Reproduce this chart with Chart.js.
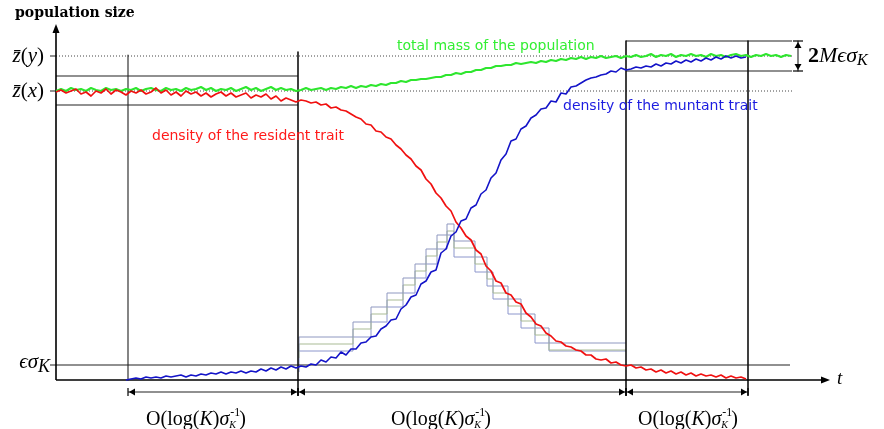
<!DOCTYPE html>
<html>
<head>
<meta charset="utf-8">
<script src="https://cdn.jsdelivr.net/npm/chart.js@4.4.1/dist/chart.umd.min.js"></script>
<style>
  html,body{margin:0;padding:0;background:#fff;}
  canvas{display:block;}
</style>
</head>
<body>
<canvas id="c" width="884" height="429"></canvas>
<script>
'use strict';

/* time grid shared by the three trajectories (arbitrary time units) */
const T = [
  0,5,10,15,20,25,30,35,40,45,
  50,55,60,65,70,75,80,85,90,95,
  100,105,110,115,120,125,130,135,140,145,
  150,155,160,165,170,175,180,185,190,195,
  200,205,210,215,220,225,230,235,240,245,
  250,255,260,265,270,275,280,285,290,295,
  300,305,310,315,320,325,330,335,340,345,
  350,355,360,365,370,375,380,385,390,395,
  400,405,410,415,420,425,430,435,440,445,
  450,455,460,465,470,475,480,485,490,495,
  500,505,510,515,520,525,530,535,540,545,
  550,555,560,565,570,575,580,585,590,595,
  600,605,610,615,620,625,630,635,640,645,
  650,655,660,665,670,675,680,685,690,695,
  700,705,710,715,720,725,730,735
];

/* density of the resident trait, from t=0 */
const RESIDENT = [
  288,290,287,289,291,286,288,284,289,287,
  291,286,290,288,285,289,287,290,286,288,
  292,287,290,285,288,284,289,286,288,284,
  287,283,286,288,284,287,283,285,287,282,
  285,283,286,281,284,279,282,280,278,
  280,279,277,278,275,276,272,273,270,269,
  266,263,261,256,255,249,248,243,241,235,
  231,225,221,214,210,201,196,187,182,174,
  169,158,152,144,140,130,126,114,109,99,
  97,87,85,78,76,67,63,56,54,47,
  44,39,38,34,33,30,29,25,25,21,
  20,21,17,18,15,14,15,12,13,10,
  11,8,10,7,9,6,8,5,7,4,
  6,4,5,3,5,2,4,2,3,1
];

/* density of the mutant trait, starts at T[14] */
const MUTANT_START = 14;
const MUTANT = [
  0,1,2,1,3,2,3,2,4,3,
  4,5,3,5,4,6,5,7,6,8,
  6,8,7,9,7,9,8,11,9,12,
  10,13,11,14,12,14,13,16,15,20,
  18,23,22,28,25,31,31,37,38,43,
  44,51,54,60,61,71,75,83,85,96,
  99,108,110,127,131,144,148,159,161,172,
  175,186,190,202,207,220,226,239,241,251,
  254,262,265,271,272,279,278,287,286,293,
  294,297,300,302,303,305,306,309,308,312,
  310,311,313,312,314,313,316,314,317,316,
  319,317,320,318,321,319,322,320,323,321,
  324,322,324,322,323
];

/* total mass of the population */
const TOTAL = [
  289,291,289,292,290,291,289,292,290,289,
  292,290,291,289,291,290,292,289,291,292,
  290,289,292,290,291,289,292,290,291,293,
  290,292,289,291,290,292,289,291,293,290,
  292,289,291,293,290,292,290,291,289,290,
  292,290,291,292,290,292,291,293,292,294,
  292,294,293,295,294,296,295,297,297,299,
  298,300,300,301,301,302,303,303,305,305,
  307,306,308,308,310,310,312,312,314,314,
  315,315,317,316,317,318,317,319,318,320,
  319,321,320,322,321,323,321,323,322,324,
  322,323,324,322,324,323,325,323,324,326,
  323,325,324,326,323,325,324,326,324,325,
  323,326,324,325,323,325,326,324,325,323,
  325,324,326,324,325,323,325,324
];

/* piecewise-constant bounds used in the invasion phase */
const STAIR_T   = [243,297,315,331,347,359,370,381,391,398,419,431,437,452,465,479,493,526,570];
const STAIR_HI  = [29,43,58,73,87,102,116,131,145,156,139,123,108,94,81,66,52,37,37];
const STAIR_MID = [22,36,51,66,80,95,109,124,138,149,132,116,101,87,74,59,45,30,30];
const STAIR_LO  = [8,29,43,58,73,87,102,116,131,145,123,108,94,81,66,52,37,29,29];

/* reference levels and phase boundaries */
const LEVEL_ZY = 324, LEVEL_ZX = 289, LEVEL_EPS = 15;
const BAND_X = [275, 304];        // z(x) +- M eps sigma
const BAND_Y = [309, 339];        // z(y) +- M eps sigma
const PHASES = [72, 242, 570, 692];
const T_END = 736;

/* ---------- helpers ---------- */
const pts = (ys, off=0) => ys.map((y,i)=>({x:T[i+off], y}));
const segs = list => list.flatMap(([x1,y1,x2,y2]) => [{x:x1,y:y1},{x:x2,y:y2},{x:x2,y:null}]);
const stair = ys => ys.map((y,i)=>({x:STAIR_T[i], y}));

const ROW = -12;   // height of the duration arrows under the t-axis
const thin = segs([
  [0,BAND_X[1],PHASES[1],BAND_X[1]], [0,BAND_X[0],PHASES[1],BAND_X[0]],
  [PHASES[2],BAND_Y[1],T_END,BAND_Y[1]], [PHASES[2],BAND_Y[0],T_END,BAND_Y[0]],
  [0,LEVEL_EPS,734,LEVEL_EPS],
  [PHASES[0],325,PHASES[0],0],
  [-6,LEVEL_ZY,0,LEVEL_ZY], [-6,LEVEL_ZX,0,LEVEL_ZX], [-6,LEVEL_EPS,0,LEVEL_EPS],
  [PHASES[0],ROW,PHASES[1],ROW], [PHASES[1],ROW,PHASES[2],ROW], [PHASES[2],ROW,PHASES[3],ROW],
  [742,BAND_Y[1],742,BAND_Y[0]]
]);
const thick = segs([
  [PHASES[1],328,PHASES[1],-15], [PHASES[2],BAND_Y[1],PHASES[2],-15], [PHASES[3],BAND_Y[1],PHASES[3],-15]
]);
const dotted = segs([[0,LEVEL_ZY,T_END,LEVEL_ZY],[0,LEVEL_ZX,T_END,LEVEL_ZX]]);
const axes = segs([[0,0,0,348],[0,0,768,0]]);

const line = (data, color, width, order, extra={}) => Object.assign({
  data, borderColor:color, borderWidth:width, pointRadius:0, tension:0,
  fill:false, order, borderJoinStyle:'round'
}, extra);

const SERIF = "'Liberation Serif','DejaVu Serif',serif";
const SANS  = "'DejaVu Sans',sans-serif";

function tri(ctx,x,y,dx,dy,len,half){
  const bx=x-dx*len, by=y-dy*len;
  ctx.beginPath(); ctx.moveTo(x,y);
  ctx.lineTo(bx-dy*half, by+dx*half); ctx.lineTo(bx+dy*half, by-dx*half);
  ctx.closePath(); ctx.fill();
}
function bar(ctx,x1,y1,x2,y2){ ctx.beginPath(); ctx.moveTo(x1,y1); ctx.lineTo(x2,y2); ctx.stroke(); }

// parts: {s, f, dy, sup, fs, supDy}
function rich(ctx, parts, x, y, align){
  let w=0;
  const ws = parts.map(p=>{
    ctx.font=p.f; let m=ctx.measureText(p.s).width;
    if(p.sup!=null){ ctx.font=p.fs; m=Math.max(m, ctx.measureText(p.sup).width); }
    w+=m; return m;
  });
  let cx = align==='center' ? x-w/2 : align==='right' ? x-w : x;
  parts.forEach((p,i)=>{
    ctx.font=p.f; ctx.fillText(p.s, cx, y+(p.dy||0));
    if(p.sup!=null){ ctx.font=p.fs; ctx.fillText(p.sup, cx+1, y+p.supDy); }
    cx+=ws[i];
  });
}

const CURVE_LABELS = [
  {text:'density of the resident trait', color:'#ff1a1a', t:96,  h:244},
  {text:'density of the muntant trait',  color:'#1c1ce0', t:507, h:274},
  {text:'total mass of the population',  color:'#33ee33', t:341, h:334}
];
const O_LABELS = [196, 441, 688];

const overlay = {
  id:'overlay',
  afterDatasetsDraw(chart){
    const {ctx, scales:{x:sx, y:sy}} = chart;
    const X=v=>sx.getPixelForValue(v), Y=v=>sy.getPixelForValue(v);
    ctx.save();
    ctx.fillStyle='#000'; ctx.strokeStyle='#000'; ctx.lineWidth=1.2;

    // axis arrow heads
    tri(ctx, X(0), Y(356), 0,-1, 9, 3.5);
    tri(ctx, X(774), Y(0), 1,0, 9, 3.5);

    // duration arrows
    for(let i=0;i<PHASES.length-1;i++){
      const a=X(PHASES[i]), b=X(PHASES[i+1]), y=Y(ROW);
      tri(ctx, a+1, y, -1,0, 6, 3.5); bar(ctx, a, y-4, a, y+4);
      tri(ctx, b-1, y,  1,0, 6, 3.5); bar(ctx, b, y-4, b, y+4);
    }
    // 2 M eps sigma arrow
    const vx=X(742);
    tri(ctx, vx, Y(BAND_Y[1])+1, 0,-1, 6, 3.5); bar(ctx, vx-5, Y(BAND_Y[1]), vx+5, Y(BAND_Y[1]));
    tri(ctx, vx, Y(BAND_Y[0])-1, 0, 1, 6, 3.5); bar(ctx, vx-5, Y(BAND_Y[0]), vx+5, Y(BAND_Y[0]));

    // curve labels
    ctx.textBaseline='middle'; ctx.textAlign='left';
    ctx.font='14px '+SANS;
    CURVE_LABELS.forEach(l=>{ ctx.fillStyle=l.color; ctx.fillText(l.text, X(l.t), Y(l.h)); });

    // axis texts
    ctx.fillStyle='#000'; ctx.textBaseline='alphabetic';
    ctx.font="bold 14px 'DejaVu Serif',serif";
    ctx.fillText('population size', X(-41), Y(363));

    const I21='italic 21px '+SERIF, R21='21px '+SERIF;
    rich(ctx,[{s:'z\u0304',f:I21},{s:'(',f:R21},{s:'y',f:I21},{s:')',f:R21}], X(-12), Y(318), 'right');
    rich(ctx,[{s:'z\u0304',f:I21},{s:'(',f:R21},{s:'x',f:I21},{s:')',f:R21}], X(-12), Y(283), 'right');
    rich(ctx,[{s:'\u03f5\u03c3',f:I21},{s:'K',f:'italic 18px '+SERIF,dy:4}], X(-6), Y(12), 'right');
    rich(ctx,[{s:'2',f:'bold 22px '+SERIF},{s:'M\u03f5\u03c3',f:'italic 22px '+SERIF},{s:'K',f:'italic 16px '+SERIF,dy:3}], X(752), Y(318), 'left');
    ctx.font='italic 19px '+SERIF; ctx.fillText('t', X(781), Y(-4));

    const R20='20px '+SERIF, I20='italic 20px '+SERIF;
    O_LABELS.forEach(c=>{
      rich(ctx,[
        {s:'O(log(',f:R20},{s:'K',f:I20},{s:')',f:R20},{s:'\u03c3',f:I20},
        {s:'K',f:'italic 10px '+SERIF,dy:3,sup:'-1',fs:'12px '+SERIF,supDy:-9},
        {s:')',f:R20}
      ], X(c-56), Y(-45), 'center');
    });
    ctx.restore();
  }
};

new Chart(document.getElementById('c'), {
  type:'line',
  data:{ datasets:[
    line(pts(MUTANT, MUTANT_START), '#1414c8', 1.6, 1),
    line(pts(RESIDENT), '#f01010', 1.7, 2),
    line(pts(TOTAL), '#2ee62e', 2.1, 3),
    line(axes, '#000', 1.6, 4),
    line(thick, '#111', 1.6, 4),
    line(thin, '#222', 1.1, 4),
    line(dotted, '#444', 1, 4, {borderDash:[1,2]}),
    line(stair(STAIR_HI), '#8f98c0', 1, 6, {stepped:'after'}),
    line(stair(STAIR_MID), '#a9bb95', 1, 6, {stepped:'after'}),
    line(stair(STAIR_LO), '#8c96cc', 1, 6, {stepped:'after'})
  ]},
  options:{
    responsive:false, animation:false, devicePixelRatio:1,
    layout:{padding:0},
    scales:{
      x:{type:'linear', min:-56, max:828, display:false},
      y:{type:'linear', min:-49, max:380, display:false}
    },
    plugins:{legend:{display:false}, tooltip:{enabled:false}},
    spanGaps:false
  },
  plugins:[overlay]
});
</script>
</body>
</html>
